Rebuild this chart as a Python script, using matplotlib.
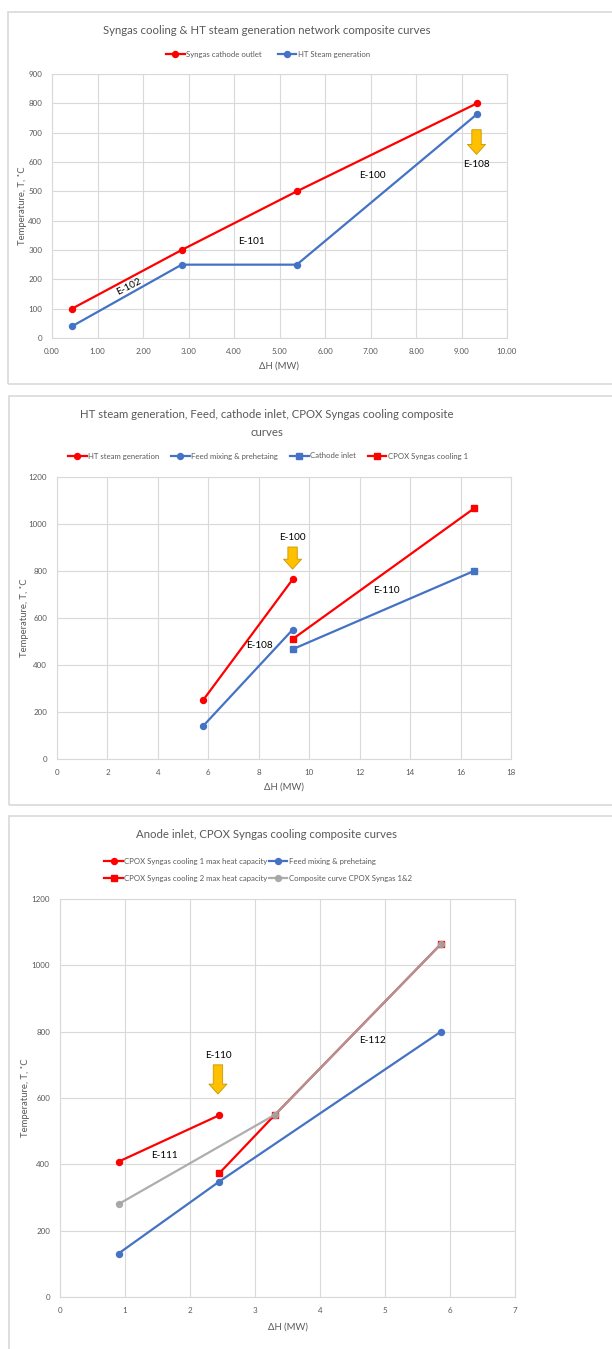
import matplotlib.pyplot as plt
from matplotlib.patches import Rectangle, FancyArrowPatch
from matplotlib.ticker import FormatStrFormatter

plt.rcParams['font.family'] = ['Lato', 'DejaVu Sans']

# Chart 1: syngas cooling vs HT steam generation
syngas_dh = [0.44, 2.85, 5.38, 9.34]
syngas_t = [100, 300, 500, 800]
ht_steam_dh = [0.44, 2.85, 5.38, 9.34]
ht_steam_t = [40, 250, 250, 763]

# Chart 2: HT steam, feed, cathode inlet, CPOX syngas cooling
ht2_dh = [5.79, 9.34]
ht2_t = [250, 764]
feed2_dh = [5.79, 9.34]
feed2_t = [140, 550]
cathode_dh = [9.34, 16.53]
cathode_t = [467, 800]
cpox1_dh = [9.34, 16.53]
cpox1_t = [510, 1066]

# Chart 3: anode inlet, CPOX syngas cooling
cpox1max_dh = [0.90, 2.45]
cpox1max_t = [408, 548]
feed3_dh = [0.90, 2.45, 5.86]
feed3_t = [131, 348, 800]
cpox2max_dh = [2.45, 3.31, 5.86]
cpox2max_t = [373, 550, 1064]
composite_dh = [0.90, 3.31, 5.86]
composite_t = [280, 550, 1064]

RED = '#FF0000'
BLUE = '#4472C4'
GRAY = '#A5A5A5'
GRID = '#D9D9D9'
TXT = '#595959'

TITLE_FS = 8.2
LEG_FS = 5.6
TICK_FS = 5.8
LABEL_FS = 6.8
NOTE_FS = 7.2

W, H = 612, 1349
fig = plt.figure(figsize=(W / 100, H / 100), dpi=100)


def px_axes(left, top, right, bottom):
    return fig.add_axes([left / W, 1 - bottom / H, (right - left) / W, (bottom - top) / H])


def ftext(x, y, s, **kw):
    fig.text(x / W, 1 - y / H, s, **kw)


def frame(left, top, right, bottom):
    fig.add_artist(Rectangle((left / W, 1 - bottom / H), (right - left) / W, (bottom - top) / H,
                             transform=fig.transFigure, fill=False, ec='#D9D9D9', lw=1.2))


def style(ax, xlim, xticks, ylim, yticks):
    ax.set_xlim(*xlim)
    ax.set_ylim(*ylim)
    ax.set_xticks(xticks)
    ax.set_yticks(yticks)
    ax.grid(True, color=GRID, lw=0.8)
    ax.set_axisbelow(True)
    for s in ax.spines.values():
        s.set_color(GRID)
    ax.tick_params(length=0, labelsize=TICK_FS, colors=TXT, pad=7)


def arrow(ax, x, y0, y1):
    ax.add_patch(FancyArrowPatch((x, y0), (x, y1), shrinkA=0, shrinkB=0,
                                 arrowstyle='simple,head_length=0.55,head_width=1.0,tail_width=0.52',
                                 mutation_scale=13, fc='#FFC000', ec='#C99700', lw=0.6, zorder=5))


def legend(handles, x, y, ncol, colsp, **kw):
    fig.legend(handles=handles, loc='center', bbox_to_anchor=(x / W, 1 - y / H), ncol=ncol,
               frameon=False, fontsize=LEG_FS, labelcolor=TXT, handlelength=2.4,
               handletextpad=0.2, columnspacing=colsp, **kw)


line_kw = dict(lw=1.6, markersize=4.3)
sq_kw = dict(lw=1.6, markersize=4.6)

# ---- panel 1 ----
frame(8, 12, 640, 384)
ax1 = px_axes(52, 74, 507, 338)
style(ax1, (0, 10), range(0, 11), (0, 900), range(0, 901, 100))
ax1.xaxis.set_major_formatter(FormatStrFormatter('%.2f'))
l1, = ax1.plot(syngas_dh, syngas_t, color=RED, marker='o', label='Syngas cathode outlet', **line_kw)
l2, = ax1.plot(ht_steam_dh, ht_steam_t, color=BLUE, marker='o', label='HT Steam generation', **line_kw)
ax1.text(1.70, 174, 'E-102', rotation=27, ha='center', va='center', fontsize=NOTE_FS)
ax1.text(4.39, 329, 'E-101', ha='center', va='center', fontsize=NOTE_FS)
ax1.text(7.04, 554, 'E-100', ha='center', va='center', fontsize=NOTE_FS)
ax1.text(9.33, 590, 'E-108', ha='center', va='center', fontsize=NOTE_FS)
arrow(ax1, 9.33, 710, 626)
ftext(267, 30, 'Syngas cooling & HT steam generation network composite curves',
      ha='center', va='center', fontsize=TITLE_FS, color=TXT)
legend([l1, l2], 268, 54, 2, 2.0)
ftext(23, 206, 'Temperature, T, ˚C', rotation=90, ha='center', va='center', fontsize=LABEL_FS, color=TXT)
ftext(279, 366, 'ΔH (MW)', ha='center', va='center', fontsize=LABEL_FS, color=TXT)

# ---- panel 2 ----
frame(9, 396, 640, 805)
ax2 = px_axes(57, 477, 511, 759)
style(ax2, (0, 18), range(0, 19, 2), (0, 1200), range(0, 1201, 200))
h1, = ax2.plot(ht2_dh, ht2_t, color=RED, marker='o', label='HT steam generation', **line_kw)
h2, = ax2.plot(feed2_dh, feed2_t, color=BLUE, marker='o', label='Feed mixing & prehetaing', **line_kw)
h3, = ax2.plot(cathode_dh, cathode_t, color=BLUE, marker='s', label='Cathode inlet', **sq_kw)
h4, = ax2.plot(cpox1_dh, cpox1_t, color=RED, marker='s', label='CPOX Syngas cooling 1', **sq_kw)
ax2.text(9.34, 942, 'E-100', ha='center', va='center', fontsize=NOTE_FS)
ax2.text(13.08, 719, 'E-110', ha='center', va='center', fontsize=NOTE_FS)
ax2.text(8.03, 485, 'E-108', ha='center', va='center', fontsize=NOTE_FS)
arrow(ax2, 9.34, 902, 808)
ftext(267, 414, 'HT steam generation, Feed, cathode inlet, CPOX Syngas cooling composite',
      ha='center', va='center', fontsize=TITLE_FS, color=TXT)
ftext(267, 432, 'curves', ha='center', va='center', fontsize=TITLE_FS, color=TXT)
legend([h1, h2, h3, h4], 268, 456, 4, 1.5)
ftext(25, 618, 'Temperature, T, ˚C', rotation=90, ha='center', va='center', fontsize=LABEL_FS, color=TXT)
ftext(284, 787, 'ΔH (MW)', ha='center', va='center', fontsize=LABEL_FS, color=TXT)

# ---- panel 3 ----
frame(9, 816, 640, 1400)
ax3 = px_axes(60, 899, 515, 1297)
style(ax3, (0, 7), range(0, 8), (0, 1200), range(0, 1201, 200))
k1, = ax3.plot(cpox1max_dh, cpox1max_t, color=RED, marker='o',
               label='CPOX Syngas cooling 1 max heat capacity', **line_kw)
k2, = ax3.plot(feed3_dh, feed3_t, color=BLUE, marker='o', label='Feed mixing & prehetaing', **line_kw)
k3, = ax3.plot(cpox2max_dh, cpox2max_t, color=RED, marker='s',
               label='CPOX Syngas cooling 2 max heat capacity', **sq_kw)
k4, = ax3.plot(composite_dh, composite_t, color=GRAY, marker='o', alpha=0.9,
               label='Composite curve CPOX Syngas 1&2', **line_kw)
ax3.text(2.43, 728, 'E-110', ha='center', va='center', fontsize=NOTE_FS)
ax3.text(1.61, 428, 'E-111', ha='center', va='center', fontsize=NOTE_FS)
ax3.text(4.81, 773, 'E-112', ha='center', va='center', fontsize=NOTE_FS)
arrow(ax3, 2.43, 700, 612)
ftext(267, 835, 'Anode inlet, CPOX Syngas cooling composite curves',
      ha='center', va='center', fontsize=TITLE_FS, color=TXT)
# legend fills column-wise, so rows read k1 k2 / k3 k4
legend([k1, k3, k2, k4], 258, 870, 2, 0.1, labelspacing=1.3)
ftext(26, 1098, 'Temperature, T, ˚C', rotation=90, ha='center', va='center', fontsize=LABEL_FS, color=TXT)
ftext(288, 1327, 'ΔH (MW)', ha='center', va='center', fontsize=LABEL_FS, color=TXT)

fig.savefig('out.png', dpi=100)
